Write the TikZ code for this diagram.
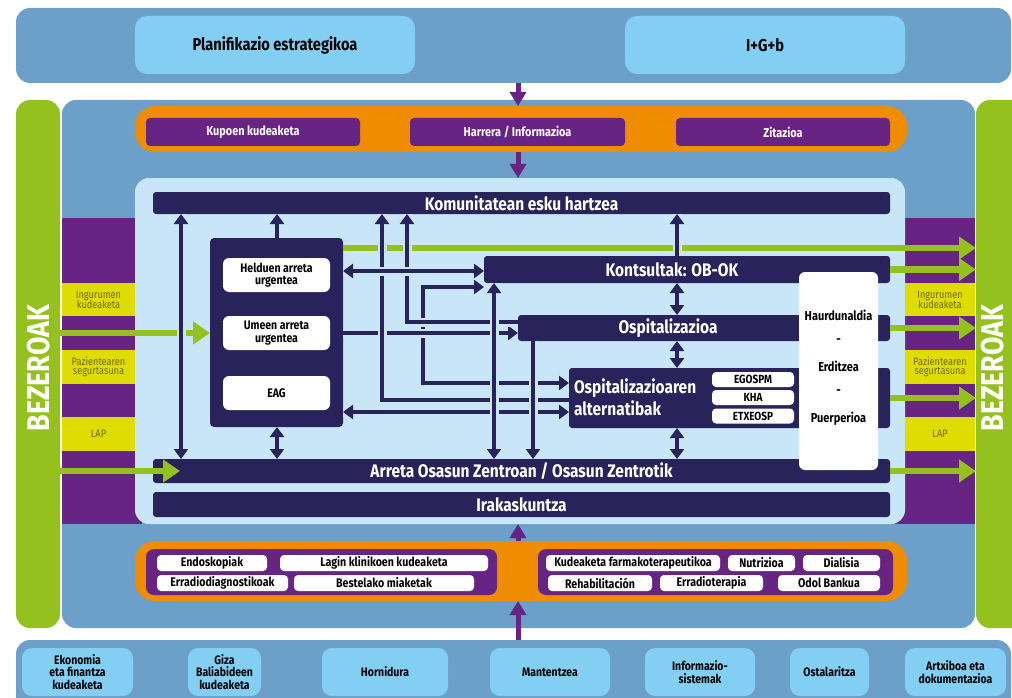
\documentclass[tikz,border=0pt]{standalone}
\usepackage{fontspec}
\setmainfont{Fira Sans}[FakeStretch=0.85]
\usetikzlibrary{arrows.meta,calc}
\definecolor{bandblue}{HTML}{6CA0C8}
\definecolor{lightbox}{HTML}{82CFF3}
\definecolor{panelc}{HTML}{C9E6F8}
\definecolor{navy}{HTML}{29235C}
\definecolor{purp}{HTML}{682483}
\definecolor{orng}{HTML}{F08C00}
\definecolor{grn}{HTML}{95C11F}
\definecolor{yel}{HTML}{DEDC00}
\definecolor{olive}{HTML}{6E6A12}
\newcommand{\fs}[1]{\fontsize{#1}{#1}\selectfont}
\begin{document}
\begin{tikzpicture}[x=1pt,y=-1pt,
  blk/.style={inner sep=0pt,outer sep=0pt,align=center,font=\bfseries},
  wh/.style 2 args={minimum width=#1pt,minimum height=#2pt},
  band/.style={blk,fill=bandblue,rounded corners=14pt},
  lbox/.style={blk,fill=lightbox,rounded corners=12pt,text=black},
  gbar/.style={blk,fill=grn,rounded corners=14pt},
  obox/.style={blk,fill=orng,rounded corners=20pt},
  pbox/.style={blk,fill=purp,rounded corners=4pt,text=white,font=\bfseries\fs{12.8}},
  pgroup/.style={blk,fill=purp,rounded corners=8pt},
  pill/.style={blk,fill=white,rounded corners=4pt,text=black,font=\bfseries\fs{12.5}},
  nbar/.style={blk,fill=navy,rounded corners=3pt,text=white,font=\bfseries\fs{18.2}},
  wbox/.style={blk,fill=white,rounded corners=6pt,text=black,font=\bfseries\fs{12.4}},
  ybox/.style={blk,fill=yel,text=olive,font=\fs{10.8},align=center},
  bbox/.style={blk,fill=lightbox,rounded corners=10pt,text=black,font=\bfseries\fs{12.3}},
  ntext/.style={blk,text=white,font=\bfseries\fs{18.2}},
  htext/.style={blk,font=\bfseries\fs{12.9}},
  nav/.style={draw=navy,line width=4.5pt,-{Triangle[width=14pt,length=10pt]}},
  navd/.style={draw=navy,line width=4.5pt,{Triangle[width=14pt,length=10pt]}-{Triangle[width=14pt,length=10pt]}},
  halo/.style={preaction={draw=panelc,line width=9pt,-}},
  garr/.style={draw=grn,line width=6.5pt,-{Triangle[width=22pt,length=17pt]}},
  parr/.style={draw=purp,line width=5pt,-{Triangle[width=16pt,length=14pt]}}
]
\useasboundingbox (0,0) rectangle (1012,698);
\clip (0,0) rectangle (1012,698);

% ---- top band
\node[band,wh={995}{75}] (topband) at (513.5,45.5) {};
\node[lbox,wh={280}{58},font=\bfseries\fs{17.2}] (plan) at (275,45) {Planifikazio estrategikoa};
\node[lbox,wh={280}{58},font=\bfseries\fs{17.2}] (igb) at (765,45) {I+G+b};

% ---- side bars and main panel
\node[gbar,wh={44}{528}] (lbar) at (38,364) {};
\node[gbar,wh={50}{528}] (rbar) at (1001,364) {};
\node[band,wh={913}{528}] (mainp) at (518.5,364) {};

% purple strips and yellow boxes
\node[blk,fill=purp,wh={80}{306}] (lstrip) at (102,371) {};
\node[blk,fill=purp,wh={80}{306}] (rstrip) at (935,371) {};
\node[ybox,wh={73}{33}] (yl1) at (98.5,299.5) {Ingurumen\\[-1pt]kudeaketa};
\node[ybox,wh={73}{34}] (yl2) at (98.5,367) {Pazientearen\\[-1pt]segurtasuna};
\node[ybox,wh={73}{34}] (yl3) at (98.5,434) {LAP};
\node[ybox,wh={70}{33}] (yr1) at (940,299.5) {Ingurumen\\[-1pt]kudeaketa};
\node[ybox,wh={70}{34}] (yr2) at (940,367) {Pazientearen\\[-1pt]segurtasuna};
\node[ybox,wh={70}{34}] (yr3) at (940,434) {LAP};

\node[blk,text=white,rotate=90,font=\bfseries\fs{31.5}] (bzl) at (39,368) {BEZEROAK};
\node[blk,text=white,rotate=90,font=\bfseries\fs{31.5}] (bzr) at (993,368) {BEZEROAK};

% ---- top orange band
\node[obox,wh={772}{46}] (otop) at (521,129) {};
\node[pbox,wh={214}{28}] (kup) at (253,132) {Kupoen kudeaketa};
\node[pbox,wh={215}{28}] (harr) at (517.5,132) {Harrera / Informazioa};
\node[pbox,wh={214}{28}] (zit) at (783,132) {Zitazioa};

% ---- inner panel
\node[blk,fill=panelc,rounded corners=14pt,wh={770}{346}] (inner) at (520,351) {};

% ---- bottom orange band
\node[obox,wh={772}{60}] (obot) at (521,571) {};
\node[pgroup,wh={351}{46}] (lgrp) at (321.5,572) {};
\node[pgroup,wh={355}{46}] (rgrp) at (715.5,572) {};
\node[pill,wh={110}{16}] (endo) at (212,563) {Endoskopiak};
\node[pill,wh={208}{16}] (lagin) at (384,563) {Lagin klinikoen kudeaketa};
\node[pill,wh={131}{16}] (errd) at (222.5,583) {Erradiodiagnostikoak};
\node[pill,wh={180}{16}] (best) at (384,583) {Bestelako miaketak};
\node[pill,wh={174}{16}] (kfarm) at (633,563) {Kudeaketa farmakoterapeutikoa};
\node[pill,wh={67}{16}] (nutr) at (761.5,563) {Nutrizioa};
\node[pill,wh={77}{16}] (dial) at (841.5,563) {Dialisia};
\node[pill,wh={104}{16}] (rehab) at (600,583) {Rehabilitación};
\node[pill,wh={103}{16}] (errt) at (711.5,583) {Erradioterapia};
\node[pill,wh={102}{16}] (odol) at (829,583) {Odol Bankua};

% ---- bottom band
\node[band,wh={995}{90}] (botband) at (513.5,685) {};
\node[bbox,wh={111}{48}] (ekon) at (77.5,672) {Ekonomia\\eta finantza\\kudeaketa};
\node[bbox,wh={73}{48}] (giza) at (224.5,672) {Giza\\Baliabideen\\kudeaketa};
\node[bbox,wh={126}{48}] (horn) at (385,672) {Hornidura};
\node[bbox,wh={120}{48}] (mant) at (550,672) {Mantentzea};
\node[bbox,wh={110}{48}] (info) at (700,672) {Informazio-\\sistemak};
\node[bbox,wh={79}{48}] (ostal) at (829.5,672) {Ostalaritza};
\node[bbox,wh={101}{48}] (artx) at (955.5,672) {Artxiboa eta\\dokumentazioa};

% ---- purple arrows
\coordinate (ax) at (518,0);
\draw[parr] (topband.south -| ax) -- (otop.north -| ax);
\draw[parr] (otop.south -| ax) -- (inner.north -| ax);
\draw[parr] (botband.north -| ax) -- (obot.south -| ax);
\draw[parr] (obot.north -| ax) -- (inner.south -| ax);

% ---- navy bars and boxes
\node[nbar,wh={737}{22}] (komu) at (521.5,203) {Komunitatean esku hartzea};
\node[blk,fill=navy,rounded corners=4pt,wh={133}{189}] (urg) at (276.5,332.5) {};
\node[wbox,wh={107}{34}] (held) at (276.5,275) {Helduen arreta\\urgentea};
\node[wbox,wh={107}{34}] (umeen) at (276.5,333) {Umeen arreta\\urgentea};
\node[wbox,wh={107}{34}] (eag) at (276.5,393) {EAG};
\node[nbar,wh={406}{27}] (kont) at (687,269.5) {};
\node[nbar,wh={372}{26}] (ospi) at (704,328) {};
\node[nbar,wh={321}{60}] (alt) at (729.5,398) {};
\node[nbar,wh={737}{24}] (arreta) at (521.5,471) {Arreta Osasun Zentroan / Osasun Zentrotik};
\node[nbar,wh={737}{25}] (irak) at (521.5,504.5) {Irakaskuntza};
\node[ntext] (kontt) at (672,269.5) {Kontsultak: OB-OK};
\node[ntext] (ospit) at (668,328) {Ospitalizazioa};
\node[ntext,anchor=west,align=left] (altt) at (574,397) {Ospitalizazioaren\\[2pt]alternatibak};
\node[pill,wh={82}{15},font=\bfseries\fs{11.8}] (egos) at (753,379.5) {EGOSPM};
\node[pill,wh={82}{15},font=\bfseries\fs{11.8}] (kha) at (753,397.5) {KHA};
\node[pill,wh={82}{15},font=\bfseries\fs{11.8}] (etxe) at (753,416) {ETXEOSP};

% ---- connectors
\coordinate (x181) at (181,0);
\coordinate (x277) at (277,0);
\coordinate (x382) at (382,0);
\coordinate (x407) at (407,0);
\coordinate (x423) at (423,0);
\coordinate (x494) at (494,0);
\coordinate (x533) at (533,0);
\coordinate (x677) at (677,0);
\coordinate (y248) at (0,248);
\coordinate (y271) at (0,271);
\coordinate (y287) at (0,287);
\coordinate (y322) at (0,322);
\coordinate (y333) at (0,333);
\coordinate (y383) at (0,383);
\coordinate (y400) at (0,400);
\coordinate (y412) at (0,412);

% green line from urgent box to clients
\draw[garr] (urg.east |- y248) -- (rbar.west |- y248);
\draw[garr] (lbar.east |- umeen) -- (urg.west |- umeen);

% navy
\draw[navd,halo] (kont.west |- y287) -- (x423 |- y287) -- (x423 |- y383) -- (alt.west |- y383);
\draw[nav,halo] (urg.east |- y333) -- (ospi.west |- y333);
\draw[nav,halo] (alt.west |- y400) -- (x382 |- y400) -- (komu.south -| x382);
\draw[nav,halo] (ospi.west |- y322) -- (x407 |- y322) -- (komu.south -| x407);
\draw[navd,halo] (urg.east |- y271) -- (kont.west |- y271);
\draw[navd,halo] (urg.east |- y412) -- (alt.west |- y412);
\draw[navd,halo] (kont.south -| x494) -- (arreta.north -| x494);
\draw[nav,halo] (ospi.south -| x533) -- (arreta.north -| x533);
\draw[nav,halo] (kont.north -| x677) -- (komu.south -| x677);
\draw[navd] (kont.south -| x677) -- (ospi.north -| x677);
\draw[navd] (ospi.south -| x677) -- (alt.north -| x677);
\draw[navd] (alt.south -| x677) -- (arreta.north -| x677);
\draw[navd,halo] (komu.south -| x181) -- (arreta.north -| x181);
\draw[nav] (urg.north -| x277) -- (komu.south -| x277);
\draw[navd] (urg.south -| x277) -- (arreta.north -| x277);

% white box
\node[wbox,wh={79}{198}] (haur) at (838.5,371) {};
\node[htext] (haur1) at (838.5,315) {Haurdunaldia};
\node[htext] (haur2) at (838.5,341) {-};
\node[htext] (haur3) at (838.5,366) {Erditzea};
\node[htext] (haur4) at (838.5,392) {-};
\node[htext] (haur5) at (838.5,419) {Puerperioa};

% green arrows
\draw[garr] (lbar.east |- arreta) -- ([xshift=27pt]arreta.west);
\draw[garr] (kont.east) -- (rbar.west |- kont);
\draw[garr] (ospi.east) -- (rbar.west |- ospi);
\draw[garr] (alt.east) -- (rbar.west |- alt);
\draw[garr] (arreta.east) -- (rbar.west |- arreta);
\end{tikzpicture}
\end{document}
